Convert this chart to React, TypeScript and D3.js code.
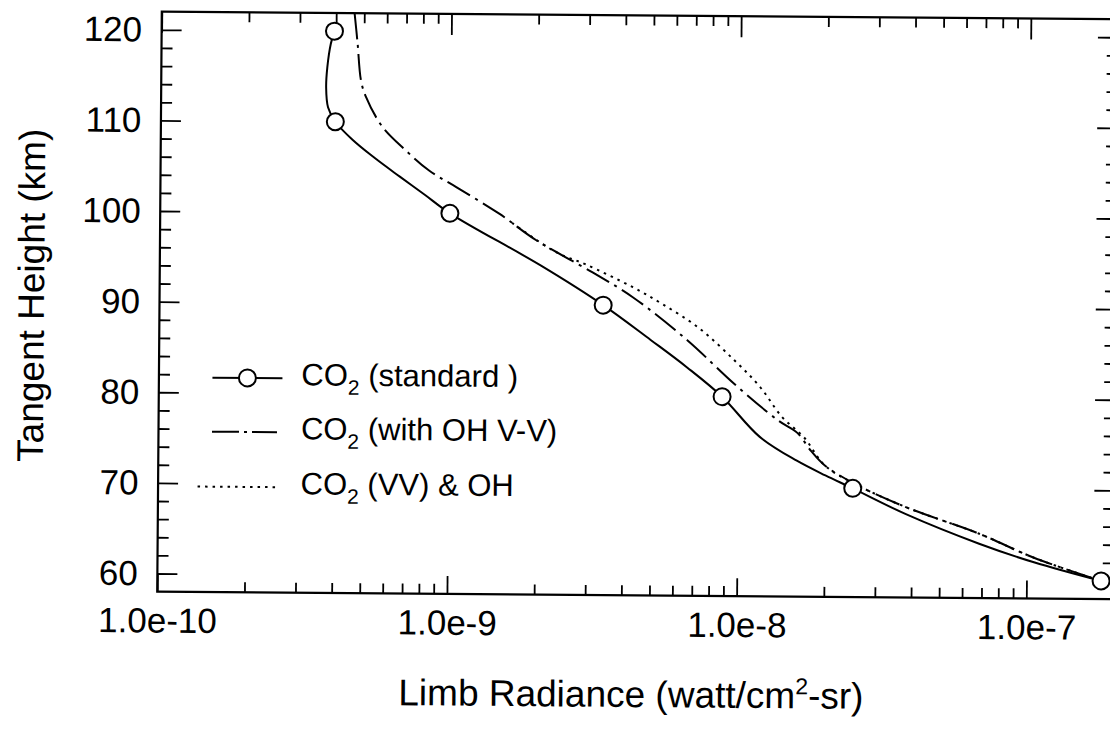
import React, { useEffect, useRef } from "react";
import * as d3 from "d3";

// ---- Data ----
const heightTicks = [60, 70, 80, 90, 100, 110, 120];
const heightTickLabels = ["60", "70", "80", "90", "100", "110", "120"];
const radianceTicks = [1e-10, 1e-9, 1e-8, 1e-7];
const radianceTickLabels = ["1.0e-10", "1.0e-9", "1.0e-8", "1.0e-7"];

// CO2 (standard) – solid line with circles
const standardHeights = [120, 118.6, 116, 113.8, 111.6, 110, 108, 106, 104, 102, 100, 94.3, 90, 86.2, 83.2, 80, 75.6, 73, 71.4, 70, 67.2, 64, 62, 60];
const standardRadiance = [3.95e-10, 3.84e-10, 3.74e-10, 3.71e-10, 3.77e-10, 4.0e-10, 4.6e-10, 5.5e-10, 6.7e-10, 8.2e-10, 1.0e-9, 2.07e-9, 3.4e-9, 4.97e-9, 6.65e-9, 8.8e-9, 1.19e-8, 1.6e-8, 2.01e-8, 2.5e-8, 3.82e-8, 6.85e-8, 1.06e-7, 1.81e-7];
const markerHeights = [120, 110, 100, 90, 80, 70, 60];
const markerRadiance = [3.95e-10, 4.0e-10, 1.0e-9, 3.4e-9, 8.8e-9, 2.5e-8, 1.81e-7];

// CO2 (with OH V-V) – dash-dot line
const withOHHeights = [122, 118.7, 114.6, 112.8, 109.5, 106.9, 104.7, 102.9, 100, 97.1, 93.6, 90.9, 86.2, 81.4, 77.4, 76.1, 74.1, 72.5, 70.5, 68, 65.1, 62.5, 60];
const withOHRadiance = [4.63e-10, 4.75e-10, 4.89e-10, 5.09e-10, 5.81e-10, 7.01e-10, 8.45e-10, 1.05e-9, 1.48e-9, 1.99e-9, 3.12e-9, 4.3e-9, 6.65e-9, 9.7e-9, 1.38e-8, 1.6e-8, 1.79e-8, 2.0e-8, 2.54e-8, 3.8e-8, 6.85e-8, 1.06e-7, 1.81e-7];

// CO2 (VV) & OH – dotted line
const vvOHHeights = [99, 95.8, 94.5, 92, 90.2, 87.6, 84, 81.1, 77.8, 75.6, 72.5, 70.5, 68, 65.1, 62.5, 60];
const vvOHRadiance = [1.64e-9, 2.33e-9, 2.94e-9, 4.3e-9, 5.42e-9, 7.26e-9, 9.7e-9, 1.19e-8, 1.42e-8, 1.69e-8, 2.0e-8, 2.54e-8, 3.8e-8, 6.85e-8, 1.06e-7, 1.81e-7];

const legendLabels = [" (standard )", " (with OH V-V)", " (VV) & OH"];

const FONT = "'Liberation Sans', Arial, Helvetica, sans-serif";

export default function App() {
  const ref = useRef<SVGSVGElement>(null);

  useEffect(() => {
    const svg = d3.select(ref.current);
    svg.selectAll("*").remove();

    const left = 159.5, right = 1115.8, top = 15.4, bottom = 595.4;
    const x = d3.scaleLog().domain([1e-10, 2e-7]).range([left, right]);
    const y = d3.scaleLinear().domain([58, 122]).range([bottom, top]);

    const g = svg
      .append("g")
      .attr("transform", `rotate(0.45 ${(left + right) / 2} ${(top + bottom) / 2})`)
      .style("font-family", FONT);

    // minor ticks
    const xMinor = x.ticks().filter((v) => !radianceTicks.some((m) => Math.abs(v - m) / m < 1e-6) && v < 2e-7 * 0.999);
    const yMinor = d3.range(58, 123, 2).filter((v) => v % 10 !== 0 && v > 58 && v < 122);

    const styleAxis = (sel: any) => {
      sel.select(".domain").remove();
      sel.selectAll(".tick line").attr("stroke", "#000").attr("stroke-width", 1.8);
    };

    // bottom
    g.append("g").attr("transform", `translate(0,${bottom})`)
      .call(d3.axisBottom(x).tickValues(xMinor).tickSize(-10).tickSizeOuter(0).tickFormat(() => ""))
      .call(styleAxis);
    const bAx = g.append("g").attr("transform", `translate(0,${bottom})`)
      .call(d3.axisBottom(x).tickValues(radianceTicks).tickSize(-18).tickSizeOuter(0).tickPadding(16)
        .tickFormat((d, i) => radianceTickLabels[i]))
      .call(styleAxis);
    bAx.selectAll("text").attr("font-size", 35).attr("fill", "#000").style("font-family", FONT);

    // top
    g.append("g").attr("transform", `translate(0,${top})`)
      .call(d3.axisTop(x).tickValues(xMinor).tickSize(-10).tickSizeOuter(0).tickFormat(() => ""))
      .call(styleAxis);
    g.append("g").attr("transform", `translate(0,${top})`)
      .call(d3.axisTop(x).tickValues(radianceTicks).tickSize(-21).tickSizeOuter(0).tickFormat(() => ""))
      .call(styleAxis);

    // left
    g.append("g").attr("transform", `translate(${left},0)`)
      .call(d3.axisLeft(y).tickValues(yMinor).tickSize(-11).tickSizeOuter(0).tickFormat(() => ""))
      .call(styleAxis);
    const lAx = g.append("g").attr("transform", `translate(${left},0)`)
      .call(d3.axisLeft(y).tickValues(heightTicks).tickSize(-20).tickSizeOuter(0).tickPadding(19.5)
        .tickFormat((d, i) => heightTickLabels[i]))
      .call(styleAxis);
    lAx.selectAll("text").attr("font-size", 35).attr("fill", "#000").style("font-family", FONT);

    // right
    g.append("g").attr("transform", `translate(${right},0)`)
      .call(d3.axisRight(y).tickValues(yMinor).tickSize(-11).tickSizeOuter(0).tickFormat(() => ""))
      .call(styleAxis);
    g.append("g").attr("transform", `translate(${right},0)`)
      .call(d3.axisRight(y).tickValues(heightTicks).tickSize(-20).tickSizeOuter(0).tickFormat(() => ""))
      .call(styleAxis);

    // frame
    g.append("rect").attr("x", left).attr("y", top).attr("width", right - left).attr("height", bottom - top)
      .attr("fill", "none").attr("stroke", "#000").attr("stroke-width", 2.2);

    // curves
    const line = d3.line<[number, number]>()
      .x((d) => x(d[0]))
      .y((d) => y(d[1]))
      .curve(d3.curveCatmullRom.alpha(0.5));

    const std: [number, number][] = standardHeights.map((h, i) => [standardRadiance[i], h]);
    const oh: [number, number][] = withOHHeights.map((h, i) => [withOHRadiance[i], h]);
    const vv: [number, number][] = vvOHHeights.map((h, i) => [vvOHRadiance[i], h]);

    const clipId = "plotClip";
    svg.append("defs").append("clipPath").attr("id", clipId)
      .append("rect").attr("x", left).attr("y", top).attr("width", right - left).attr("height", bottom - top);
    const plot = g.append("g").attr("clip-path", `url(#${clipId})`);

    plot.append("path").attr("d", line(vv)).attr("fill", "none").attr("stroke", "#000")
      .attr("stroke-width", 2).attr("stroke-dasharray", "2.5,5");
    plot.append("path").attr("d", line(oh)).attr("fill", "none").attr("stroke", "#000")
      .attr("stroke-width", 2).attr("stroke-dasharray", "26,6,3,6");
    plot.append("path").attr("d", line(std)).attr("fill", "none").attr("stroke", "#000")
      .attr("stroke-width", 2);

    g.append("g").selectAll("circle").data(markerHeights).join("circle")
      .attr("cx", (d, i) => x(markerRadiance[i]))
      .attr("cy", (d) => y(d))
      .attr("r", 8.5)
      .attr("fill", "#fff").attr("stroke", "#000").attr("stroke-width", 2);

    // legend
    const legX1 = 213, legX2 = 283, textX = 302;
    const rowY = [377, 431, 486];
    const lg = g.append("g");
    lg.append("line").attr("x1", legX1).attr("x2", legX2).attr("y1", rowY[0] + 4).attr("y2", rowY[0] + 4)
      .attr("stroke", "#000").attr("stroke-width", 2);
    lg.append("circle").attr("cx", (legX1 + legX2) / 2).attr("cy", rowY[0] + 4).attr("r", 8.5)
      .attr("fill", "#fff").attr("stroke", "#000").attr("stroke-width", 2);
    lg.append("line").attr("x1", legX1).attr("x2", legX2 - 5).attr("y1", rowY[1] + 4).attr("y2", rowY[1] + 4)
      .attr("stroke", "#000").attr("stroke-width", 2).attr("stroke-dasharray", "27,5,3,5");
    lg.append("line").attr("x1", 199).attr("x2", legX2 - 4).attr("y1", rowY[2] + 4).attr("y2", rowY[2] + 4)
      .attr("stroke", "#000").attr("stroke-width", 2).attr("stroke-dasharray", "2.5,5");

    legendLabels.forEach((lab, i) => {
      const t = lg.append("text").attr("x", textX).attr("y", rowY[i] + 11).attr("font-size", 31).attr("fill", "#000");
      t.append("tspan").text("CO");
      t.append("tspan").attr("font-size", 21).attr("dy", 9).text("2");
      t.append("tspan").attr("dy", -9).text(lab);
    });

    // axis titles
    const xt = g.append("text").attr("x", 634).attr("y", 707).attr("text-anchor", "middle")
      .attr("font-size", 37).attr("fill", "#000");
    xt.append("tspan").text("Limb Radiance (watt/cm");
    xt.append("tspan").attr("font-size", 23).attr("dy", -14).text("2");
    xt.append("tspan").attr("dy", 14).text("-sr)");

    g.append("text").attr("transform", `translate(44,300) rotate(-90)`).attr("text-anchor", "middle")
      .attr("font-size", 37).attr("fill", "#000").text("Tangent Height (km)");
  }, []);

  return (
    <svg
      ref={ref}
      width={1110}
      height={730}
      style={{ position: "absolute", left: 0, top: 0, background: "#fff", overflow: "hidden" }}
    />
  );
}
